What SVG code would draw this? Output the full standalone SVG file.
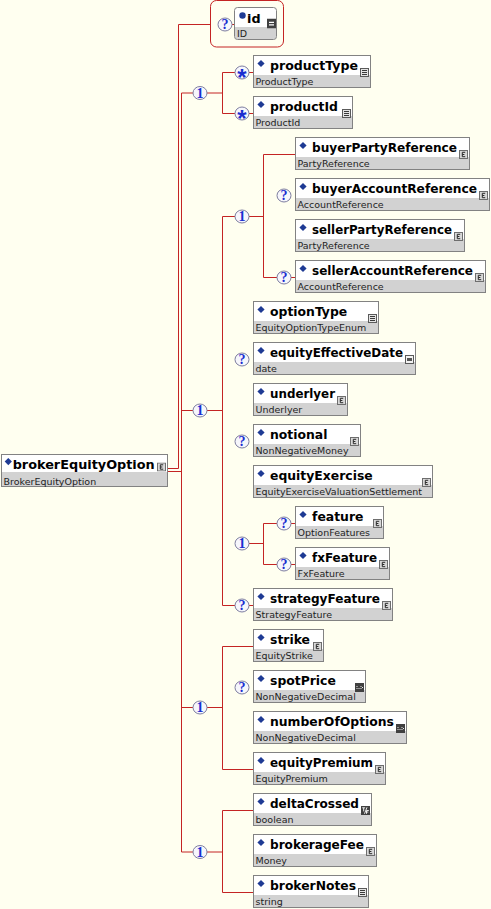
<svg xmlns="http://www.w3.org/2000/svg" width="491" height="909" viewBox="0 0 491 909">
<defs>
<style>
.bg{fill:#FFFFF0}
.ln{fill:none;stroke:#C42424;stroke-width:1}
.fr{fill:#FFFFFF;stroke:#828282;stroke-width:1}
.bd{fill:#D2D2D2}
.dm{fill:#1E3A94}
.nm{font-family:"DejaVu Sans",Verdana,sans-serif;font-weight:bold;font-size:12.4px;fill:#000}
.rn{font-family:"DejaVu Sans",Verdana,sans-serif;font-weight:bold;font-size:12.8px;fill:#000}
.tp{font-family:"DejaVu Sans",Verdana,sans-serif;font-size:9.5px;fill:#1E1E1E}
.cc{fill:#F6F6FC;stroke:#7E7EA0;stroke-width:1}
.ct{font-family:"Liberation Serif","DejaVu Serif",serif;font-weight:bold;font-size:14px;fill:#1A2ED0;text-anchor:middle}
.cs{font-family:"Liberation Sans",Arial,sans-serif;font-weight:bold;font-size:24px;fill:#1A2ED0;text-anchor:middle}
.grp{fill:none;stroke:#C42424;stroke-width:1}
</style>
<!-- type icons shown at the right end of each element header -->
<symbol id="ic-cx" viewBox="0 0 9 9">
<rect x="0.5" y="0.5" width="8" height="8" fill="#D8D8D8" stroke="#6E6E6E"/>
<path d="M6.2,2.3H3.3V6.7H6.2M3.3,4.5H5.4" fill="none" stroke="#2A2A2A"/>
</symbol>
<symbol id="ic-list" viewBox="0 0 9 9">
<rect x="0.5" y="0.5" width="8" height="8" fill="#E4E4E4" stroke="#5A5A5A"/>
<path d="M2,2.5H7M2,4.5H7M2,6.5H7" fill="none" stroke="#3A3A3A" stroke-width="1.2"/>
</symbol>
<symbol id="ic-date" viewBox="0 0 9 9">
<rect x="0.5" y="0.5" width="8" height="8" fill="#F2F2F2" stroke="#5A5A5A"/>
<rect x="2" y="3" width="5" height="3" fill="#555"/>
</symbol>
<symbol id="ic-num" viewBox="0 0 9 9">
<rect x="0" y="0" width="9" height="9" fill="#404040"/>
<path d="M1.5,3.5h1M3.5,5.5h1M5.5,3.5h1M1.5,5.5h1M5.5,5.5h1M7,4.5h1" fill="none" stroke="#FFF" stroke-width="0.9"/>
</symbol>
<symbol id="ic-bool" viewBox="0 0 9 9">
<rect x="0" y="0" width="9" height="9" fill="#404040"/>
<path d="M1.2,1.8h3M2.7,1.8v3.6M3.5,7.8l2.5,-6.5M5.5,4.5v3.3M5.5,4.5h2.3M5.5,6h1.8" fill="none" stroke="#FFF" stroke-width="0.9"/>
</symbol>
<symbol id="ic-id" viewBox="0 0 9 10">
<rect x="0" y="0" width="9" height="10" fill="#404040"/>
<path d="M2,3.8h5M2,6.3h5" fill="none" stroke="#FFF" stroke-width="1.2"/>
</symbol>
</defs>

<rect class="bg" x="0" y="0" width="491" height="909"/>

<!-- connectors -->
<g id="connectors" class="ln">
<path d="M168,468.5H178.5M168,471.5H181.5"/>
<path d="M178.5,24.5V468.5M178.5,24.5H210.5"/>
<path d="M181.5,93V852"/>
<path d="M232,24.5H234"/>
<!-- first sequence -->
<path d="M181.5,93H193M207,93H222.5M222.5,72.5V113.5M222.5,72.5H235M222.5,113.5H235M249,72.5H253M249,113.5H253"/>
<!-- main sequence -->
<path d="M181.5,410.5H193M207,410.5H222.5M222.5,216.5V605.5M222.5,216.5H235M222.5,605.5H235M249,605.5H253"/>
<!-- party sequence -->
<path d="M249,216.5H263.5M263.5,154.5V277.5M263.5,154.5H295M263.5,277.5H277M291,277.5H295"/>
<!-- feature sequence -->
<path d="M249,543.5H263.5M263.5,523.5V564.5M263.5,523.5H277M263.5,564.5H277M291,523.5H295M291,564.5H295"/>
<!-- pricing sequence -->
<path d="M181.5,707.5H193M207,707.5H222.5M222.5,646.5V769.5M222.5,646.5H253M222.5,769.5H253"/>
<!-- broker sequence -->
<path d="M181.5,852H193M207,852H222.5M222.5,810.5V892.5M222.5,810.5H253M222.5,892.5H253"/>
</g>

<!-- sequence compositors -->
<g id="seq-product"><ellipse class="cc" cx="200" cy="93" rx="7" ry="6.5"/><text class="ct" x="200" y="97.7">1</text></g>
<g id="seq-main"><ellipse class="cc" cx="200" cy="410.5" rx="7" ry="6.5"/><text class="ct" x="200" y="415.2">1</text></g>
<g id="seq-party"><ellipse class="cc" cx="242" cy="216.5" rx="7" ry="6.5"/><text class="ct" x="242" y="221.2">1</text></g>
<g id="seq-feature"><ellipse class="cc" cx="242" cy="543.5" rx="7" ry="6.5"/><text class="ct" x="242" y="548.2">1</text></g>
<g id="seq-pricing"><ellipse class="cc" cx="200" cy="707.5" rx="7" ry="6.5"/><text class="ct" x="200" y="712.2">1</text></g>
<g id="seq-broker"><ellipse class="cc" cx="200" cy="852" rx="7" ry="6.5"/><text class="ct" x="200" y="856.7">1</text></g>

<!-- root element -->
<g id="brokerEquityOption" transform="translate(1,454)">
<rect class="fr" x="0.5" y="0.5" width="166" height="32"/>
<rect class="bd" x="1" y="18" width="165" height="14"/>
<path class="dm" d="M7.3,4l3.6,3.6l-3.6,3.6l-3.6,-3.6z"/>
<text class="rn" x="11.7" y="15" textLength="142" lengthAdjust="spacingAndGlyphs">brokerEquityOption</text>
<text class="tp" x="2.5" y="30.5">BrokerEquityOption</text>
<use href="#ic-cx" x="156" y="8.5" width="9" height="9"/>
</g>

<!-- optional id attribute group -->
<g id="id">
<rect class="grp" x="210.5" y="0.5" width="73" height="46.5" rx="6"/>
<ellipse class="cc" cx="225" cy="24.5" rx="7" ry="6.5"/><text class="ct" x="225" y="29.2">?</text>
<rect x="234.5" y="7.5" width="42" height="32" rx="3" fill="#FFF"/>
<path class="bd" d="M235,27H276V36.5Q276,39 273.5,39H237.5Q235,39 235,36.5Z"/>
<rect x="234.5" y="7.5" width="42" height="32" rx="3" fill="none" stroke="#828282"/>
<circle cx="242.5" cy="15.5" r="3.2" fill="#1E3A94"/>
<text class="rn" x="247" y="22.5">id</text>
<text class="tp" x="237" y="37">ID</text>
<use href="#ic-id" x="267" y="18.5" width="9" height="10"/>
</g>

<g id="productType" transform="translate(253,55)">
<ellipse class="cc" cx="-11" cy="17.5" rx="7" ry="6.5"/><text class="cs" x="-11" y="31">*</text>
<rect class="fr" x="0.5" y="0.5" width="117" height="32"/><rect class="bd" x="1" y="20" width="116" height="12"/>
<path class="dm" d="M8,4.9l3.6,3.6l-3.6,3.6l-3.6,-3.6z"/>
<text class="nm" x="17" y="15" textLength="88" lengthAdjust="spacingAndGlyphs">productType</text><text class="tp" x="2.5" y="30">ProductType</text>
<use href="#ic-list" x="107" y="13" width="9" height="9"/>
</g>

<g id="productId" transform="translate(253,96)">
<ellipse class="cc" cx="-11" cy="17.5" rx="7" ry="6.5"/><text class="cs" x="-11" y="31">*</text>
<rect class="fr" x="0.5" y="0.5" width="99" height="32"/><rect class="bd" x="1" y="20" width="98" height="12"/>
<path class="dm" d="M8,4.9l3.6,3.6l-3.6,3.6l-3.6,-3.6z"/>
<text class="nm" x="17" y="15">productId</text><text class="tp" x="2.5" y="30">ProductId</text>
<use href="#ic-list" x="89" y="13" width="9" height="9"/>
</g>

<g id="buyerPartyReference" transform="translate(295,137)">
<rect class="fr" x="0.5" y="0.5" width="174" height="32"/><rect class="bd" x="1" y="20" width="173" height="12"/>
<path class="dm" d="M8,4.9l3.6,3.6l-3.6,3.6l-3.6,-3.6z"/>
<text class="nm" x="17" y="15" textLength="145" lengthAdjust="spacingAndGlyphs">buyerPartyReference</text><text class="tp" x="2.5" y="30">PartyReference</text>
<use href="#ic-cx" x="164" y="13" width="9" height="9"/>
</g>

<g id="buyerAccountReference" transform="translate(295,178)">
<ellipse class="cc" cx="-11" cy="17.5" rx="7" ry="6.5"/><text class="ct" x="-11" y="22.2">?</text>
<rect class="fr" x="0.5" y="0.5" width="194" height="32"/><rect class="bd" x="1" y="20" width="193" height="12"/>
<path class="dm" d="M8,4.9l3.6,3.6l-3.6,3.6l-3.6,-3.6z"/>
<text class="nm" x="17" y="15" textLength="165" lengthAdjust="spacingAndGlyphs">buyerAccountReference</text><text class="tp" x="2.5" y="30">AccountReference</text>
<use href="#ic-cx" x="184" y="13" width="9" height="9"/>
</g>

<g id="sellerPartyReference" transform="translate(295,219)">
<rect class="fr" x="0.5" y="0.5" width="169" height="32"/><rect class="bd" x="1" y="20" width="168" height="12"/>
<path class="dm" d="M8,4.9l3.6,3.6l-3.6,3.6l-3.6,-3.6z"/>
<text class="nm" x="17" y="15" textLength="140" lengthAdjust="spacingAndGlyphs">sellerPartyReference</text><text class="tp" x="2.5" y="30">PartyReference</text>
<use href="#ic-cx" x="159" y="13" width="9" height="9"/>
</g>

<g id="sellerAccountReference" transform="translate(295,260)">
<ellipse class="cc" cx="-11" cy="17.5" rx="7" ry="6.5"/><text class="ct" x="-11" y="22.2">?</text>
<rect class="fr" x="0.5" y="0.5" width="190" height="32"/><rect class="bd" x="1" y="20" width="189" height="12"/>
<path class="dm" d="M8,4.9l3.6,3.6l-3.6,3.6l-3.6,-3.6z"/>
<text class="nm" x="17" y="15" textLength="161" lengthAdjust="spacingAndGlyphs">sellerAccountReference</text><text class="tp" x="2.5" y="30">AccountReference</text>
<use href="#ic-cx" x="180" y="13" width="9" height="9"/>
</g>

<g id="optionType" transform="translate(253,301)">
<rect class="fr" x="0.5" y="0.5" width="125" height="32"/><rect class="bd" x="1" y="20" width="124" height="12"/>
<path class="dm" d="M8,4.9l3.6,3.6l-3.6,3.6l-3.6,-3.6z"/>
<text class="nm" x="17" y="15">optionType</text><text class="tp" x="2.5" y="30">EquityOptionTypeEnum</text>
<use href="#ic-list" x="115" y="13" width="9" height="9"/>
</g>

<g id="equityEffectiveDate" transform="translate(253,342)">
<ellipse class="cc" cx="-11" cy="17.5" rx="7" ry="6.5"/><text class="ct" x="-11" y="22.2">?</text>
<rect class="fr" x="0.5" y="0.5" width="162" height="32"/><rect class="bd" x="1" y="20" width="161" height="12"/>
<path class="dm" d="M8,4.9l3.6,3.6l-3.6,3.6l-3.6,-3.6z"/>
<text class="nm" x="17" y="15" textLength="133" lengthAdjust="spacingAndGlyphs">equityEffectiveDate</text><text class="tp" x="2.5" y="30">date</text>
<use href="#ic-date" x="152" y="13" width="9" height="9"/>
</g>

<g id="underlyer" transform="translate(253,383)">
<rect class="fr" x="0.5" y="0.5" width="94" height="32"/><rect class="bd" x="1" y="20" width="93" height="12"/>
<path class="dm" d="M8,4.9l3.6,3.6l-3.6,3.6l-3.6,-3.6z"/>
<text class="nm" x="17" y="15" textLength="65" lengthAdjust="spacingAndGlyphs">underlyer</text><text class="tp" x="2.5" y="30">Underlyer</text>
<use href="#ic-cx" x="84" y="13" width="9" height="9"/>
</g>

<g id="notional" transform="translate(253,424)">
<ellipse class="cc" cx="-11" cy="17.5" rx="7" ry="6.5"/><text class="ct" x="-11" y="22.2">?</text>
<rect class="fr" x="0.5" y="0.5" width="107" height="32"/><rect class="bd" x="1" y="20" width="106" height="12"/>
<path class="dm" d="M8,4.9l3.6,3.6l-3.6,3.6l-3.6,-3.6z"/>
<text class="nm" x="17" y="15">notional</text><text class="tp" x="2.5" y="30">NonNegativeMoney</text>
<use href="#ic-cx" x="97" y="13" width="9" height="9"/>
</g>

<g id="equityExercise" transform="translate(253,465)">
<rect class="fr" x="0.5" y="0.5" width="179" height="32"/><rect class="bd" x="1" y="20" width="178" height="12"/>
<path class="dm" d="M8,4.9l3.6,3.6l-3.6,3.6l-3.6,-3.6z"/>
<text class="nm" x="17" y="15">equityExercise</text><text class="tp" x="2.5" y="30">EquityExerciseValuationSettlement</text>
<use href="#ic-cx" x="169" y="13" width="9" height="9"/>
</g>

<g id="feature" transform="translate(295,506)">
<ellipse class="cc" cx="-11" cy="17.5" rx="7" ry="6.5"/><text class="ct" x="-11" y="22.2">?</text>
<rect class="fr" x="0.5" y="0.5" width="88" height="32"/><rect class="bd" x="1" y="20" width="87" height="12"/>
<path class="dm" d="M8,4.9l3.6,3.6l-3.6,3.6l-3.6,-3.6z"/>
<text class="nm" x="17" y="15">feature</text><text class="tp" x="2.5" y="30">OptionFeatures</text>
<use href="#ic-cx" x="78" y="13" width="9" height="9"/>
</g>

<g id="fxFeature" transform="translate(295,547)">
<ellipse class="cc" cx="-11" cy="17.5" rx="7" ry="6.5"/><text class="ct" x="-11" y="22.2">?</text>
<rect class="fr" x="0.5" y="0.5" width="94" height="32"/><rect class="bd" x="1" y="20" width="93" height="12"/>
<path class="dm" d="M8,4.9l3.6,3.6l-3.6,3.6l-3.6,-3.6z"/>
<text class="nm" x="17" y="15" textLength="65" lengthAdjust="spacingAndGlyphs">fxFeature</text><text class="tp" x="2.5" y="30">FxFeature</text>
<use href="#ic-cx" x="84" y="13" width="9" height="9"/>
</g>

<g id="strategyFeature" transform="translate(253,588)">
<ellipse class="cc" cx="-11" cy="17.5" rx="7" ry="6.5"/><text class="ct" x="-11" y="22.2">?</text>
<rect class="fr" x="0.5" y="0.5" width="139" height="32"/><rect class="bd" x="1" y="20" width="138" height="12"/>
<path class="dm" d="M8,4.9l3.6,3.6l-3.6,3.6l-3.6,-3.6z"/>
<text class="nm" x="17" y="15" textLength="110" lengthAdjust="spacingAndGlyphs">strategyFeature</text><text class="tp" x="2.5" y="30">StrategyFeature</text>
<use href="#ic-cx" x="129" y="13" width="9" height="9"/>
</g>

<g id="strike" transform="translate(253,629)">
<rect class="fr" x="0.5" y="0.5" width="70" height="32"/><rect class="bd" x="1" y="20" width="69" height="12"/>
<path class="dm" d="M8,4.9l3.6,3.6l-3.6,3.6l-3.6,-3.6z"/>
<text class="nm" x="17" y="15">strike</text><text class="tp" x="2.5" y="30">EquityStrike</text>
<use href="#ic-cx" x="60" y="13" width="9" height="9"/>
</g>

<g id="spotPrice" transform="translate(253,670)">
<ellipse class="cc" cx="-11" cy="17.5" rx="7" ry="6.5"/><text class="ct" x="-11" y="22.2">?</text>
<rect class="fr" x="0.5" y="0.5" width="112" height="32"/><rect class="bd" x="1" y="20" width="111" height="12"/>
<path class="dm" d="M8,4.9l3.6,3.6l-3.6,3.6l-3.6,-3.6z"/>
<text class="nm" x="17" y="15">spotPrice</text><text class="tp" x="2.5" y="30">NonNegativeDecimal</text>
<use href="#ic-num" x="102" y="13" width="9" height="9"/>
</g>

<g id="numberOfOptions" transform="translate(253,711)">
<rect class="fr" x="0.5" y="0.5" width="153" height="32"/><rect class="bd" x="1" y="20" width="152" height="12"/>
<path class="dm" d="M8,4.9l3.6,3.6l-3.6,3.6l-3.6,-3.6z"/>
<text class="nm" x="17" y="15" textLength="124" lengthAdjust="spacingAndGlyphs">numberOfOptions</text><text class="tp" x="2.5" y="30">NonNegativeDecimal</text>
<use href="#ic-num" x="143" y="13" width="9" height="9"/>
</g>

<g id="equityPremium" transform="translate(253,752)">
<rect class="fr" x="0.5" y="0.5" width="132" height="32"/><rect class="bd" x="1" y="20" width="131" height="12"/>
<path class="dm" d="M8,4.9l3.6,3.6l-3.6,3.6l-3.6,-3.6z"/>
<text class="nm" x="17" y="15" textLength="103" lengthAdjust="spacingAndGlyphs">equityPremium</text><text class="tp" x="2.5" y="30">EquityPremium</text>
<use href="#ic-cx" x="122" y="13" width="9" height="9"/>
</g>

<g id="deltaCrossed" transform="translate(253,793)">
<rect class="fr" x="0.5" y="0.5" width="118" height="32"/><rect class="bd" x="1" y="20" width="117" height="12"/>
<path class="dm" d="M8,4.9l3.6,3.6l-3.6,3.6l-3.6,-3.6z"/>
<text class="nm" x="17" y="15" textLength="89" lengthAdjust="spacingAndGlyphs">deltaCrossed</text><text class="tp" x="2.5" y="30">boolean</text>
<use href="#ic-bool" x="108" y="13" width="9" height="9"/>
</g>

<g id="brokerageFee" transform="translate(253,834)">
<rect class="fr" x="0.5" y="0.5" width="123" height="32"/><rect class="bd" x="1" y="20" width="122" height="12"/>
<path class="dm" d="M8,4.9l3.6,3.6l-3.6,3.6l-3.6,-3.6z"/>
<text class="nm" x="17" y="15" textLength="94" lengthAdjust="spacingAndGlyphs">brokerageFee</text><text class="tp" x="2.5" y="30">Money</text>
<use href="#ic-cx" x="113" y="13" width="9" height="9"/>
</g>

<g id="brokerNotes" transform="translate(253,875)">
<rect class="fr" x="0.5" y="0.5" width="115" height="32"/><rect class="bd" x="1" y="20" width="114" height="12"/>
<path class="dm" d="M8,4.9l3.6,3.6l-3.6,3.6l-3.6,-3.6z"/>
<text class="nm" x="17" y="15" textLength="86" lengthAdjust="spacingAndGlyphs">brokerNotes</text><text class="tp" x="2.5" y="30">string</text>
<use href="#ic-list" x="105" y="13" width="9" height="9"/>
</g>
</svg>
